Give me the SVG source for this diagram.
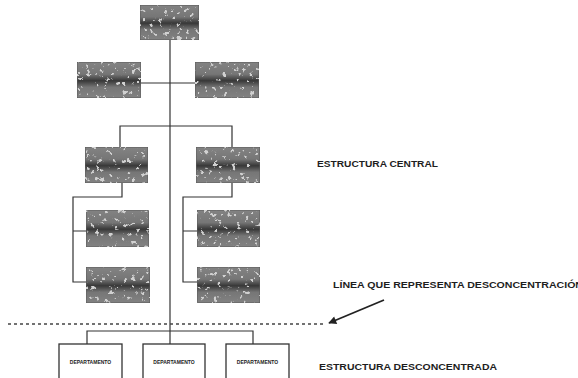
<svg xmlns="http://www.w3.org/2000/svg" width="578" height="378" viewBox="0 0 578 378">
<defs>
<linearGradient id="g" x1="0" y1="0" x2="0" y2="1">
<stop offset="0" stop-color="#838383"/>
<stop offset="0.34" stop-color="#767676"/>
<stop offset="0.45" stop-color="#505050"/>
<stop offset="0.52" stop-color="#383838"/>
<stop offset="0.59" stop-color="#505050"/>
<stop offset="0.7" stop-color="#767676"/>
<stop offset="1" stop-color="#828282"/>
</linearGradient>
<filter id="speck" x="0" y="0" width="1" height="1" color-interpolation-filters="sRGB">
<feTurbulence type="fractalNoise" baseFrequency="0.22" numOctaves="3" seed="7" result="n"/>
<feColorMatrix in="n" type="matrix" values="0 0 0 0 0.82  0 0 0 0 0.82  0 0 0 0 0.82  14 0 0 0 -8.9" result="s"/>
<feComposite in="s" in2="SourceGraphic" operator="in" result="c"/>
<feMerge><feMergeNode in="SourceGraphic"/><feMergeNode in="c"/></feMerge>
</filter>
<marker id="ah" viewBox="0 0 10 10" refX="9" refY="5" markerWidth="10" markerHeight="8" orient="auto" markerUnits="userSpaceOnUse">
<path d="M0,0 L10,5 L0,10 z" fill="#222"/>
</marker>
<style>
.box{fill:url(#g);stroke:#5a5a5a;stroke-width:1;filter:url(#speck)}
.dep{fill:#fff;stroke:#333;stroke-width:1.3}
.ln{fill:none;stroke:#333;stroke-width:1.2}
.dt{font-family:"Liberation Sans",Arial,sans-serif;font-weight:bold;font-size:5px;fill:#222;text-anchor:middle}
.lb{font-family:"Liberation Sans",Arial,sans-serif;font-weight:bold;font-size:9.5px;fill:#1e1e1e}
</style>
</defs>
<rect width="578" height="378" fill="#fff"/>
<g id="connectors">
<path class="ln" d="M170,40 V344"/>
<path class="ln" d="M141,83 H195"/>
<path class="ln" d="M120,147 V126 H232 V147"/>
<path class="ln" d="M122,183 V197 H73 V282 H86 M73,231 H86"/>
<path class="ln" d="M232,183 V197 H183 V282 H197 M183,231 H197"/>
<path class="ln" d="M87,344 V331 H253 V344"/>
<path d="M8,324 H326" fill="none" stroke="#444" stroke-width="1.5" stroke-dasharray="3,3"/>
<path d="M384,300 L329,323" fill="none" stroke="#222" stroke-width="1.8" marker-end="url(#ah)"/>
</g>
<g id="n-top"><rect class="box" x="140" y="5" width="59" height="35"/></g>
<g id="n-r2l"><rect class="box" x="77" y="62" width="64" height="36"/></g>
<g id="n-r2r"><rect class="box" x="195" y="62" width="64" height="36"/></g>
<g id="n-r3l"><rect class="box" x="85" y="147" width="63" height="36"/></g>
<g id="n-r3r"><rect class="box" x="196" y="147" width="64" height="36"/></g>
<g id="n-r4l"><rect class="box" x="86" y="210" width="63" height="37"/></g>
<g id="n-r4r"><rect class="box" x="197" y="210" width="63" height="37"/></g>
<g id="n-r5l"><rect class="box" x="86" y="267" width="64" height="36"/></g>
<g id="n-r5r"><rect class="box" x="197" y="267" width="63" height="36"/></g>
<g id="n-d1"><rect class="dep" x="59" y="344" width="63" height="40"/><text class="dt" x="90.5" y="364">DEPARTAMENTO</text></g>
<g id="n-d2"><rect class="dep" x="143" y="344" width="62" height="40"/><text class="dt" x="174" y="364">DEPARTAMENTO</text></g>
<g id="n-d3"><rect class="dep" x="226" y="344" width="63" height="40"/><text class="dt" x="257.5" y="364">DEPARTAMENTO</text></g>
<g id="labels">
<text class="lb" x="317" y="167" textLength="121" lengthAdjust="spacingAndGlyphs">ESTRUCTURA CENTRAL</text>
<text class="lb" x="333" y="288" textLength="250" lengthAdjust="spacingAndGlyphs">LÍNEA QUE REPRESENTA DESCONCENTRACIÓN</text>
<text class="lb" x="319" y="370" textLength="178" lengthAdjust="spacingAndGlyphs">ESTRUCTURA DESCONCENTRADA</text>
</g>
</svg>
